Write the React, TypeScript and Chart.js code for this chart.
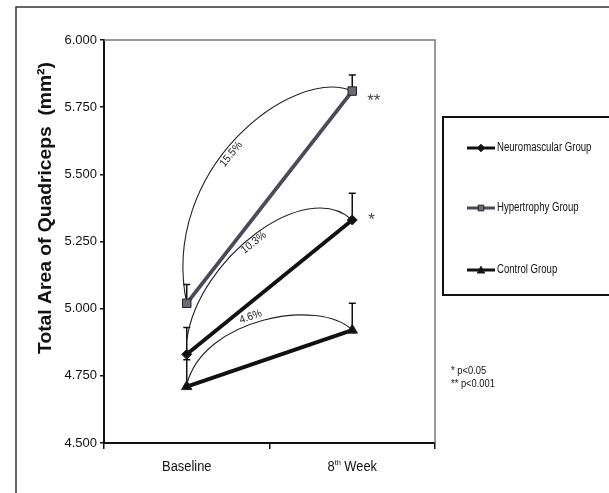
import React, { useEffect, useRef } from "react";
import { Chart, registerables } from "chart.js";

Chart.register(...registerables);

// ---------------- data ----------------
const categories = ["Baseline", "8th Week"];
const seriesNames = ["Neuromascular Group", "Hypertrophy Group", "Control Group"];
const neuromuscular = [4.83, 5.33];
const hypertrophy = [5.02, 5.81];
const control = [4.71, 4.92];
const neuromuscularErr = [0.1, 0.1];
const hypertrophyErr = [0.07, 0.06];
const controlErr = [0.1, 0.1];
const changeLabels = ["10.3%", "15.5%", "4.6%"];
const significance = ["*", "**", ""];
const pNotes = ["* p<0.05", "** p<0.001"];
const yTickValues = [4.5, 4.75, 5.0, 5.25, 5.5, 5.75, 6.0];
const yTitle = "Total Area of Quadriceps  (mm\u00B2)";

const seriesValues = [neuromuscular, hypertrophy, control];
const seriesErrors = [neuromuscularErr, hypertrophyErr, controlErr];

// ---------------- styles ----------------
const FONT = "'Liberation Sans', Arial, sans-serif";
const lineColors = ["#111111", "#4a4a58", "#111111"];
const pointFills = ["#111111", "#6a6a78", "#111111"];
const pointStyles = ["rectRot", "rect", "triangle"];
const pointRadii = [5, 6, 6];
// arc shape: control points as fractions of start->end vector, start y offset, label t and normal offset
const arcShapes = [
  { c1: [0.066, 0.68], c2: [0.72, 1.36], startDy: -14, t: 0.47, off: 6 },
  { c1: [-0.17, 0.63], c2: [0.64, 1.12], startDy: 0, t: 0.45, off: 7 },
  { c1: [0.1, 1.22], c2: [0.8, 1.6], startDy: -2, t: 0.45, off: -7 },
];
const starOffsets = [[16, 0], [15, 10], [0, 0]];

function bez(p: number[][], t: number) {
  const u = 1 - t;
  const a = u * u * u, b = 3 * u * u * t, c = 3 * u * t * t, d = t * t * t;
  const x = a * p[0][0] + b * p[1][0] + c * p[2][0] + d * p[3][0];
  const y = a * p[0][1] + b * p[1][1] + c * p[2][1] + d * p[3][1];
  const dx = 3 * u * u * (p[1][0] - p[0][0]) + 6 * u * t * (p[2][0] - p[1][0]) + 3 * t * t * (p[3][0] - p[2][0]);
  const dy = 3 * u * u * (p[1][1] - p[0][1]) + 6 * u * t * (p[2][1] - p[1][1]) + 3 * t * t * (p[3][1] - p[2][1]);
  return { x, y, dx, dy };
}

function drawMarker(ctx: CanvasRenderingContext2D, style: string, x: number, y: number, r: number, fill: string) {
  ctx.save();
  ctx.fillStyle = fill;
  ctx.strokeStyle = "#222";
  ctx.lineWidth = 1;
  ctx.beginPath();
  if (style === "rect") {
    ctx.rect(x - r * 0.75, y - r * 0.75, r * 1.5, r * 1.5);
  } else if (style === "rectRot") {
    ctx.moveTo(x, y - r);
    ctx.lineTo(x + r, y);
    ctx.lineTo(x, y + r);
    ctx.lineTo(x - r, y);
    ctx.closePath();
  } else {
    ctx.moveTo(x, y - r);
    ctx.lineTo(x + r, y + r * 0.8);
    ctx.lineTo(x - r, y + r * 0.8);
    ctx.closePath();
  }
  ctx.fill();
  ctx.stroke();
  ctx.restore();
}

const annotPlugin = {
  id: "annot",
  beforeDatasetsDraw(chart: any) {
    const ctx: CanvasRenderingContext2D = chart.ctx;
    const xs = chart.scales.x;
    const ys = chart.scales.y;
    ctx.save();
    // error bars
    seriesValues.forEach((vals, si) => {
      vals.forEach((v, i) => {
        const x = xs.getPixelForValue(i);
        const y0 = ys.getPixelForValue(v);
        const y1 = ys.getPixelForValue(v + seriesErrors[si][i]);
        ctx.strokeStyle = "#111";
        ctx.lineWidth = 1.5;
        ctx.beginPath();
        ctx.moveTo(x, y0);
        ctx.lineTo(x, y1);
        ctx.moveTo(x - 3.5, y1);
        ctx.lineTo(x + 3.5, y1);
        ctx.stroke();
      });
    });
    // arcs with percent labels
    seriesValues.forEach((vals, si) => {
      const s = arcShapes[si];
      const x0 = xs.getPixelForValue(0);
      const y0 = ys.getPixelForValue(vals[0]) + s.startDy;
      const x3 = xs.getPixelForValue(1);
      const y3 = ys.getPixelForValue(vals[1]);
      const dx = x3 - x0, dy = y3 - y0;
      const p = [
        [x0, y0],
        [x0 + s.c1[0] * dx, y0 + s.c1[1] * dy],
        [x0 + s.c2[0] * dx, y0 + s.c2[1] * dy],
        [x3, y3],
      ];
      ctx.strokeStyle = "#222";
      ctx.lineWidth = 1.1;
      ctx.beginPath();
      ctx.moveTo(p[0][0], p[0][1]);
      ctx.bezierCurveTo(p[1][0], p[1][1], p[2][0], p[2][1], p[3][0], p[3][1]);
      ctx.stroke();
      const b = bez(p, s.t);
      const len = Math.hypot(b.dx, b.dy);
      const nx = -b.dy / len, ny = b.dx / len;
      ctx.save();
      ctx.translate(b.x + nx * s.off, b.y + ny * s.off);
      ctx.rotate(Math.atan2(b.dy, b.dx));
      ctx.font = `11px ${FONT}`;
      ctx.fillStyle = "#222";
      ctx.textAlign = "center";
      ctx.textBaseline = "middle";
      ctx.scale(0.92, 1);
      ctx.fillText(changeLabels[si], 0, 0);
      ctx.restore();
    });
    ctx.restore();
  },
  afterDatasetsDraw(chart: any) {
    const ctx: CanvasRenderingContext2D = chart.ctx;
    const xs = chart.scales.x;
    const ys = chart.scales.y;
    ctx.save();
    ctx.font = `17px ${FONT}`;
    ctx.fillStyle = "#444";
    ctx.textBaseline = "middle";
    seriesValues.forEach((vals, si) => {
      if (!significance[si]) return;
      const x = xs.getPixelForValue(1) + starOffsets[si][0];
      const y = ys.getPixelForValue(vals[1]) + starOffsets[si][1];
      ctx.fillText(significance[si], x, y);
    });
    ctx.restore();
  },
  afterDraw(chart: any) {
    const ctx: CanvasRenderingContext2D = chart.ctx;
    const ca = chart.chartArea;
    const xs = chart.scales.x;
    ctx.save();
    // outer frame
    ctx.strokeStyle = "#333";
    ctx.lineWidth = 1.5;
    ctx.beginPath();
    ctx.moveTo(16, 493);
    ctx.lineTo(16, 7);
    ctx.lineTo(609, 7);
    ctx.stroke();
    // plot top/right border
    ctx.strokeStyle = "#777";
    ctx.lineWidth = 1.5;
    ctx.beginPath();
    ctx.moveTo(ca.left, ca.top);
    ctx.lineTo(ca.right, ca.top);
    ctx.lineTo(ca.right, ca.bottom);
    ctx.stroke();
    // x labels with ordinal superscript
    categories.forEach((lab, i) => {
      const x = xs.getPixelForValue(i);
      const y = 467;
      const m = lab.match(/^(\d+)(st|nd|rd|th)(.*)$/);
      ctx.save();
      ctx.translate(x, y);
      ctx.scale(0.92, 1);
      ctx.fillStyle = "#111";
      ctx.textBaseline = "middle";
      if (m) {
        ctx.font = `14px ${FONT}`;
        const w1 = ctx.measureText(m[1]).width;
        const w3 = ctx.measureText(m[3]).width;
        ctx.font = `8px ${FONT}`;
        const w2 = ctx.measureText(m[2]).width;
        let cx = -(w1 + w2 + w3) / 2;
        ctx.textAlign = "left";
        ctx.font = `14px ${FONT}`;
        ctx.fillText(m[1], cx, 0);
        cx += w1;
        ctx.font = `8px ${FONT}`;
        ctx.fillText(m[2], cx, -4);
        cx += w2;
        ctx.font = `14px ${FONT}`;
        ctx.fillText(m[3], cx, 0);
      } else {
        ctx.font = `14px ${FONT}`;
        ctx.textAlign = "center";
        ctx.fillText(lab, 0, 0);
      }
      ctx.restore();
    });
    // y title
    ctx.save();
    ctx.translate(46, 208);
    ctx.rotate(-Math.PI / 2);
    ctx.font = `bold 16px ${FONT}`;
    const tw = ctx.measureText(yTitle).width;
    const size = 16 * 292 / tw;
    ctx.font = `bold ${size.toFixed(2)}px ${FONT}`;
    ctx.fillStyle = "#111";
    ctx.textAlign = "center";
    ctx.textBaseline = "middle";
    ctx.fillText(yTitle, 0, 0);
    ctx.restore();
    // legend box
    ctx.strokeStyle = "#111";
    ctx.lineWidth = 2;
    ctx.strokeRect(443, 117, 180, 178);
    const legendY = [148, 208, 270];
    seriesNames.forEach((name, si) => {
      const y = legendY[si];
      ctx.strokeStyle = lineColors[si];
      ctx.lineWidth = 3;
      ctx.beginPath();
      ctx.moveTo(467, y);
      ctx.lineTo(495, y);
      ctx.stroke();
      drawMarker(ctx, pointStyles[si], 481, y, 3.8, pointFills[si]);
      ctx.save();
      ctx.translate(497, y);
      ctx.scale(0.8, 1);
      ctx.font = `12px ${FONT}`;
      ctx.fillStyle = "#111";
      ctx.textBaseline = "middle";
      ctx.fillText(name, 0, 0);
      ctx.restore();
    });
    // p notes
    pNotes.forEach((t, i) => {
      ctx.save();
      ctx.translate(451, 371 + i * 13);
      ctx.scale(0.85, 1);
      ctx.font = `11px ${FONT}`;
      ctx.fillStyle = "#111";
      ctx.textBaseline = "middle";
      ctx.fillText(t, 0, 0);
      ctx.restore();
    });
    ctx.restore();
  },
};

export default function App() {
  const ref = useRef<HTMLCanvasElement>(null);
  useEffect(() => {
    if (!ref.current) return;
    const chart = new Chart(ref.current, {
      type: "line",
      data: {
        labels: categories,
        datasets: seriesNames.map((name, si) => ({
          label: name,
          data: seriesValues[si],
          borderColor: lineColors[si],
          backgroundColor: pointFills[si],
          borderWidth: 3.8,
          pointStyle: pointStyles[si] as any,
          pointRadius: pointRadii[si],
          pointBorderColor: "#222",
          pointBorderWidth: 1,
          tension: 0,
        })),
      },
      options: {
        responsive: false,
        animation: false,
        devicePixelRatio: 1,
        layout: { padding: { left: 0, top: 40, right: 174, bottom: 0 } },
        plugins: { legend: { display: false }, tooltip: { enabled: false }, title: { display: false } },
        scales: {
          x: {
            type: "category",
            offset: true,
            grid: { offset: true, drawOnChartArea: false, drawTicks: true, tickLength: 6, color: "#111", lineWidth: 1.5 },
            border: { color: "#111", width: 2 },
            ticks: { display: false },
            afterFit: (s: any) => { s.height = 50; },
          },
          y: {
            min: 4.5,
            max: 6.0,
            afterBuildTicks: (s: any) => { s.ticks = yTickValues.map((v) => ({ value: v })); },
            grid: { drawOnChartArea: false, drawTicks: true, tickLength: 4, color: "#111", lineWidth: 1.5 },
            border: { color: "#111", width: 2 },
            ticks: {
              font: { family: FONT, size: 13 },
              color: "#111",
              padding: 3,
              callback: (v: any) => Number(v).toFixed(3),
            },
            afterFit: (s: any) => { s.width = 104; },
          },
        },
      },
      plugins: [annotPlugin],
    });
    return () => chart.destroy();
  }, []);
  return (
    <div style={{ position: "absolute", left: 0, top: 0, width: 609, height: 493, background: "#fff" }}>
      <canvas ref={ref} width={609} height={493} style={{ width: 609, height: 493, display: "block" }} />
    </div>
  );
}
